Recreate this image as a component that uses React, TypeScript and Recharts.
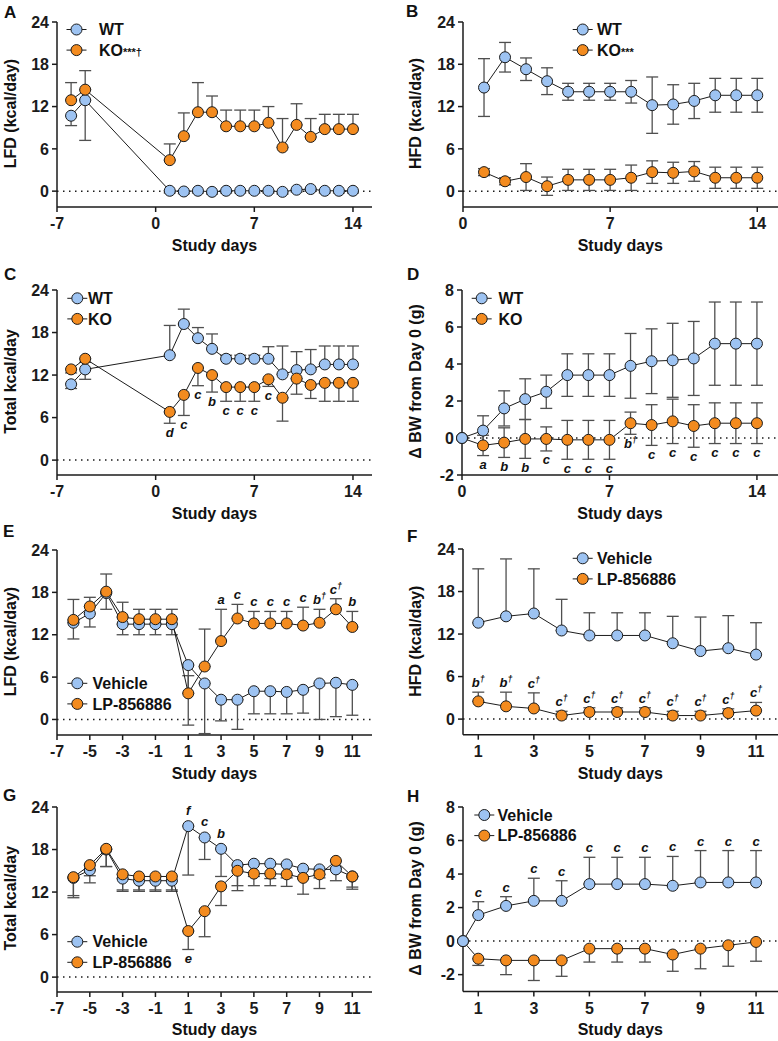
import React from "react";
import { LineChart, Line, XAxis, YAxis, ErrorBar, ReferenceLine, LabelList } from "recharts";

const BLUE = "#9dc3f2";
const ORANGE = "#f38b1f";
const INK = "#1b1b1b";
const ERR = "#4f4f4f";
const FONT = "Arial, 'Liberation Sans', Helvetica, sans-serif";

// ---- A / C: WT vs KO, days -6..14 (no chow days -4..0)
const daysAC = [-6, -5, 1, 2, 3, 4, 5, 6, 7, 8, 9, 10, 11, 12, 13, 14];
const lfdWT = [10.7, 12.9, 0.05, -0.05, 0.05, -0.1, 0.05, 0.05, 0.05, 0.05, -0.1, 0.2, 0.3, 0.05, 0.05, 0.05];
const lfdWTSem = [1.4, 5.7, 0.3, 0.3, 0.3, 0.3, 0.3, 0.3, 0.3, 0.3, 0.3, 0.3, 0.3, 0.3, 0.3, 0.3];
const lfdKO = [12.9, 14.4, 4.4, 7.8, 11.2, 11.2, 9.2, 9.2, 9.2, 9.7, 6.2, 9.4, 7.7, 8.8, 8.8, 8.8];
const lfdKOSem = [2.5, 2.7, 2.3, 3.3, 4.2, 2.3, 2.3, 2.3, 2.3, 2.3, 4.1, 3.0, 2.6, 2.1, 2.1, 2.1];

const totWT = [10.7, 12.8, 14.8, 19.2, 17.2, 15.7, 14.3, 14.3, 14.3, 14.3, 12.1, 12.7, 12.8, 13.5, 13.5, 13.5];
const totWTSem = [0.6, 1.4, 4.2, 2.1, 1.5, 2.1, 0.5, 0.5, 0.5, 1.7, 4.0, 2.6, 2.8, 2.6, 2.6, 2.6];
const totWTDir = ["down", "down", "up", "up", "up", "up", "up", "up", "up", "up", "up", "up", "up", "up", "up", "up"];
const totKO = [12.8, 14.3, 6.8, 9.2, 13.0, 12.0, 10.3, 10.3, 10.3, 11.4, 8.8, 11.5, 10.6, 10.9, 10.9, 10.9];
const totKOSem = [0.5, 0.5, 1.6, 2.9, 2.5, 2.4, 2.0, 2.0, 2.0, 1.0, 3.3, 2.2, 1.9, 2.6, 2.6, 2.6];
const totKOSig = ["", "", "d", "c", "c", "b", "c", "c", "c", "c", "", "", "", "", "", ""];

// ---- B: HFD, days 1..14
const daysB = [1, 2, 3, 4, 5, 6, 7, 8, 9, 10, 11, 12, 13, 14];
const hfdWT = [14.7, 19.0, 17.3, 15.6, 14.1, 14.1, 14.1, 14.1, 12.2, 12.3, 12.8, 13.6, 13.6, 13.6];
const hfdWTSem = [4.1, 2.1, 1.6, 1.9, 1.2, 1.2, 1.2, 1.6, 4.0, 2.8, 2.5, 2.4, 2.4, 2.4];
const hfdKO = [2.7, 1.4, 2.0, 0.7, 1.6, 1.6, 1.6, 1.9, 2.7, 2.6, 2.8, 1.9, 1.9, 1.9];
const hfdKOSem = [0.5, 0.5, 1.9, 1.3, 1.5, 1.5, 1.5, 1.8, 1.6, 1.5, 1.4, 1.5, 1.5, 1.5];

// ---- D: body weight change, days 0..14
const daysD = [0, 1, 2, 3, 4, 5, 6, 7, 8, 9, 10, 11, 12, 13, 14];
const bwWT = [0, 0.4, 1.6, 2.1, 2.5, 3.4, 3.4, 3.4, 3.9, 4.15, 4.2, 4.3, 5.1, 5.1, 5.1];
const bwWTSem = [0, 0.8, 0.95, 1.1, 0.9, 1.15, 1.15, 1.15, 1.75, 1.75, 2.0, 2.0, 2.25, 2.25, 2.25];
const bwKO = [0, -0.4, -0.25, -0.05, -0.05, -0.1, -0.1, -0.1, 0.8, 0.7, 0.9, 0.65, 0.8, 0.8, 0.8];
const bwKOSem = [0, 0.55, 0.8, 1.05, 0.65, 1.05, 1.05, 1.05, 0.6, 1.1, 1.2, 1.15, 1.1, 1.1, 1.1];
const bwKOSig = ["", "a", "b", "b", "c", "c", "c", "c", "b†", "c", "c", "c", "c", "c", "c"];

// ---- E / G: vehicle vs LP-856886, days -6..11
const daysEG = [-6, -5, -4, -3, -2, -1, 0, 1, 2, 3, 4, 5, 6, 7, 8, 9, 10, 11];
const lfdVeh = [13.7, 15.0, 17.9, 13.5, 13.5, 13.5, 13.5, 7.7, 5.1, 2.8, 2.8, 4.0, 4.0, 3.9, 4.2, 5.1, 5.2, 4.9];
const lfdVehSem = [2.3, 1.9, 2.3, 1.5, 1.5, 1.5, 1.5, 8.5, 7.1, 3.0, 4.2, 3.2, 3.2, 3.1, 3.3, 5.1, 4.8, 4.3];
const lfdLP = [14.1, 16.0, 18.1, 14.5, 14.2, 14.2, 14.2, 3.7, 7.5, 11.1, 14.3, 13.6, 13.6, 13.6, 13.3, 13.7, 15.6, 13.1];
const lfdLPSem = [2.9, 1.3, 2.5, 2.1, 1.4, 1.4, 1.4, 2.5, 5.3, 4.5, 2.0, 1.7, 1.7, 1.7, 2.6, 1.9, 1.5, 2.2];
const lfdLPSig = ["", "", "", "", "", "", "", "", "", "a", "c", "c", "c", "c", "c", "b†", "c†", "b"];

const totVeh = [14.0, 15.1, 18.0, 13.9, 13.6, 13.6, 13.6, 21.3, 19.7, 18.1, 15.8, 16.0, 16.0, 15.9, 15.3, 15.2, 15.2, 14.2];
const totVehSem = [2.5, 1.8, 2.4, 1.6, 1.3, 1.3, 1.3, 6.9, 3.1, 3.9, 2.9, 1.8, 2.1, 1.9, 1.4, 1.2, 1.6, 1.5];
const totVehSig = ["", "", "", "", "", "", "", "f", "c", "b", "", "", "", "", "", "", "", ""];
const totLP = [14.1, 15.8, 18.1, 14.5, 14.2, 14.2, 14.2, 6.5, 9.3, 12.8, 15.0, 14.6, 14.6, 14.5, 14.0, 14.5, 16.4, 14.2];
const totLPSem = [2.9, 1.5, 2.5, 2.4, 2.1, 2.1, 2.1, 2.6, 3.6, 2.7, 2.8, 1.7, 1.7, 1.7, 2.3, 2.0, 1.0, 1.8];
const totLPSig = ["", "", "", "", "", "", "", "e", "", "", "", "", "", "", "", "", "", ""];

// ---- F: HFD, days 1..11
const daysF = [1, 2, 3, 4, 5, 6, 7, 8, 9, 10, 11];
const hfdVeh = [13.6, 14.5, 14.9, 12.5, 11.8, 11.8, 11.8, 10.7, 9.6, 10.0, 9.1];
const hfdVehSem = [7.6, 8.1, 6.3, 4.4, 3.2, 3.2, 3.2, 3.8, 4.8, 4.6, 4.5];
const hfdLP = [2.5, 1.8, 1.5, 0.5, 1.0, 1.0, 1.0, 0.5, 0.5, 0.85, 1.2];
const hfdLPSem = [1.3, 2.0, 2.2, 0.6, 0.6, 0.6, 0.6, 0.6, 0.6, 0.6, 1.15];
const hfdLPSig = ["b†", "b†", "c†", "c†", "c†", "c†", "c†", "c†", "c†", "c†", "c†"];

// ---- H: body weight change; baseline point sits on the axis origin
const H_BASELINE = 0.45;
const daysH = [H_BASELINE, 1, 2, 3, 4, 5, 6, 7, 8, 9, 10, 11];
const bwVeh = [0, 1.55, 2.1, 2.4, 2.4, 3.4, 3.4, 3.4, 3.3, 3.5, 3.5, 3.5];
const bwVehSem = [0, 0.8, 0.55, 1.35, 1.2, 1.6, 1.6, 1.6, 1.75, 1.9, 1.9, 1.9];
const bwVehSig = ["", "c", "c", "c", "c", "c", "c", "c", "c", "c", "c", "c"];
const bwLP = [0, -1.05, -1.15, -1.15, -1.15, -0.45, -0.45, -0.45, -0.8, -0.45, -0.25, -0.05];
const bwLPSem = [0, 0.4, 0.85, 1.2, 0.95, 0.8, 0.8, 0.8, 1.0, 1.2, 1.25, 1.15];

const kcalTicks = [0, 6, 12, 18, 24];
const bwTicks = [-2, 0, 2, 4, 6, 8];
const ticks14 = [-7, 0, 7, 14];
const ticks0to14 = [0, 7, 14];
const ticksOdd = [-7, -5, -3, -1, 1, 3, 5, 7, 9, 11];
const ticks1to11 = [1, 3, 5, 7, 9, 11];

type Dir = "up" | "down" | "both";

type Series = {
  key: string;
  name: string;
  sup?: string;
  color: string;
  values: number[];
  sem: number[];
  dir: Dir | string[];
  sig?: string[];
  sigSide?: "above" | "below";
  sigGap?: number;
  z: number;
};

type PanelDef = {
  letter: string;
  letterPos: [number, number];
  plot: { x: number; y: number; w: number; h: number };
  xDomain: [number, number];
  xTicks: number[];
  yDomain: [number, number];
  yTicks: number[];
  yLabel: string;
  yLabelX: number;
  days: number[];
  series: Series[];
  legend: { mx: number; y: number; tx: number };
};

const wt = "WT";
const ko = "KO";
const veh = "Vehicle";
const lp = "LP-856886";

const PANELS: PanelDef[] = [
  {
    letter: "A", letterPos: [4, 6],
    plot: { x: 57, y: 22, w: 315, h: 185 },
    xDomain: [-7, 15.35], xTicks: ticks14, yDomain: [-2.25, 24], yTicks: kcalTicks,
    yLabel: "LFD (kcal/day)", yLabelX: 10, days: daysAC,
    series: [
      { key: "wt", name: wt, color: BLUE, values: lfdWT, sem: lfdWTSem, dir: "down", z: 0 },
      { key: "ko", name: ko, sup: "***†", color: ORANGE, values: lfdKO, sem: lfdKOSem, dir: "up", z: 1 },
    ],
    legend: { mx: 76.5, y: 29.5, tx: 99 },
  },
  {
    letter: "B", letterPos: [406, 5],
    plot: { x: 462.7, y: 22, w: 315.3, h: 185 },
    xDomain: [0, 15], xTicks: ticks0to14, yDomain: [-2.25, 24], yTicks: kcalTicks,
    yLabel: "HFD (kcal/day)", yLabelX: 415, days: daysB,
    series: [
      { key: "wt", name: wt, color: BLUE, values: hfdWT, sem: hfdWTSem, dir: "both", z: 0 },
      { key: "ko", name: ko, sup: "***", color: ORANGE, values: hfdKO, sem: hfdKOSem, dir: "both", z: 1 },
    ],
    legend: { mx: 582.7, y: 29.5, tx: 597 },
  },
  {
    letter: "C", letterPos: [4, 268],
    plot: { x: 57, y: 290, w: 315, h: 185 },
    xDomain: [-7, 15.35], xTicks: ticks14, yDomain: [-2.1, 24], yTicks: kcalTicks,
    yLabel: "Total kcal/day", yLabelX: 10, days: daysAC,
    series: [
      { key: "wt", name: wt, color: BLUE, values: totWT, sem: totWTSem, dir: totWTDir, z: 0 },
      { key: "ko", name: ko, color: ORANGE, values: totKO, sem: totKOSem, dir: "down", sig: totKOSig, sigSide: "below", z: 1 },
    ],
    legend: { mx: 77.3, y: 298.3, tx: 88 },
  },
  {
    letter: "D", letterPos: [407, 268],
    plot: { x: 462, y: 290, w: 316, h: 185 },
    xDomain: [0, 15], xTicks: ticks0to14, yDomain: [-2, 8], yTicks: bwTicks,
    yLabel: "Δ BW from Day 0 (g)", yLabelX: 415, days: daysD,
    series: [
      { key: "wt", name: wt, color: BLUE, values: bwWT, sem: bwWTSem, dir: "both", z: 1 },
      { key: "ko", name: ko, color: ORANGE, values: bwKO, sem: bwKOSem, dir: "both", sig: bwKOSig, sigSide: "below", z: 0 },
    ],
    legend: { mx: 481.7, y: 298.3, tx: 498.5 },
  },
  {
    letter: "E", letterPos: [3, 525],
    plot: { x: 57, y: 550, w: 315, h: 185 },
    xDomain: [-7, 12.2], xTicks: ticksOdd, yDomain: [-2.2, 24], yTicks: kcalTicks,
    yLabel: "LFD (kcal/day)", yLabelX: 10, days: daysEG,
    series: [
      { key: "veh", name: veh, color: BLUE, values: lfdVeh, sem: lfdVehSem, dir: "down", z: 0 },
      { key: "lp", name: lp, color: ORANGE, values: lfdLP, sem: lfdLPSem, dir: "up", sig: lfdLPSig, sigSide: "above", z: 1 },
    ],
    legend: { mx: 77.3, y: 683.3, tx: 92.5 },
  },
  {
    letter: "F", letterPos: [407, 530],
    plot: { x: 462.7, y: 549.3, w: 315.3, h: 185.7 },
    xDomain: [0.45, 11.8], xTicks: ticks1to11, yDomain: [-2.2, 24], yTicks: kcalTicks,
    yLabel: "HFD (kcal/day)", yLabelX: 415, days: daysF,
    series: [
      { key: "veh", name: veh, color: BLUE, values: hfdVeh, sem: hfdVehSem, dir: "up", z: 0 },
      { key: "lp", name: lp, color: ORANGE, values: hfdLP, sem: hfdLPSem, dir: "up", sig: hfdLPSig, sigSide: "above", z: 1 },
    ],
    legend: { mx: 582.7, y: 558.3, tx: 597 },
  },
  {
    letter: "G", letterPos: [3, 789],
    plot: { x: 57, y: 806.7, w: 315, h: 185 },
    xDomain: [-7, 12.2], xTicks: ticksOdd, yDomain: [-2.1, 24], yTicks: kcalTicks,
    yLabel: "Total kcal/day", yLabelX: 10, days: daysEG,
    series: [
      { key: "veh", name: veh, color: BLUE, values: totVeh, sem: totVehSem, dir: "down", sig: totVehSig, sigSide: "above", sigGap: 11, z: 0 },
      { key: "lp", name: lp, color: ORANGE, values: totLP, sem: totLPSem, dir: "down", sig: totLPSig, sigSide: "below", z: 1 },
    ],
    legend: { mx: 77.3, y: 941.7, tx: 92.5 },
  },
  {
    letter: "H", letterPos: [407, 790],
    plot: { x: 462.7, y: 807.3, w: 315.3, h: 184.4 },
    xDomain: [0.45, 11.8], xTicks: ticks1to11, yDomain: [-3, 8], yTicks: bwTicks,
    yLabel: "Δ BW from Day 0 (g)", yLabelX: 415, days: daysH,
    series: [
      { key: "veh", name: veh, color: BLUE, values: bwVeh, sem: bwVehSem, dir: "up", sig: bwVehSig, sigSide: "above", z: 1 },
      { key: "lp", name: lp, color: ORANGE, values: bwLP, sem: bwLPSem, dir: "down", z: 0 },
    ],
    legend: { mx: 484.3, y: 815, tx: 497.5 },
  },
];

// one row per day: value, [low, high] error and the y where a significance letter hangs
function buildRows(days: number[], series: Series[]) {
  return days.map((day, i) => {
    const row: Record<string, any> = { day };
    series.forEach((s) => {
      const v = s.values[i];
      const e = s.sem[i];
      const dir = Array.isArray(s.dir) ? s.dir[i] : s.dir;
      const lo = dir === "up" ? 0 : e;
      const hi = dir === "down" ? 0 : e;
      row[s.key] = v;
      row[s.key + "Err"] = [lo, hi];
      const sig = s.sig ? s.sig[i] : "";
      row[s.key + "Sig"] = sig || null;
      row[s.key + "SigY"] = sig ? (s.sigSide === "above" ? v + hi : v - lo) : null;
    });
    return row;
  });
}

const sigLabel = (dy: number) => (props: any) => {
  const { value } = props;
  if (!value) return null;
  const vb = props.viewBox || {};
  const x = props.x ?? vb.x;
  const y = props.y ?? vb.y;
  if (x == null || y == null) return null;
  const text = String(value);
  const dagger = text.includes("†");
  return (
    <text x={x} y={y + dy} textAnchor="middle" fontFamily={FONT} fontSize={13} fontWeight="bold" fontStyle="italic" fill="#111">
      {text.replace("†", "")}
      {dagger && (
        <tspan fontSize={9} dy={-5}>
          †
        </tspan>
      )}
    </text>
  );
};

const Y_W = 50;
const TOP = 14;
const X_H = 40;

const axisProps = {
  stroke: INK,
  axisLine: { stroke: INK, strokeWidth: 1.5 },
  tickLine: { stroke: INK, strokeWidth: 1.5 },
  tick: { fill: INK, fontSize: 16, fontWeight: 700, fontFamily: FONT },
};

function Panel({ p }: { p: PanelDef }) {
  const rows = buildRows(p.days, p.series);
  const padR = p.plot.x + p.plot.w >= 777 ? 0 : 6;
  const width = p.plot.w + Y_W + padR;
  const height = p.plot.h + TOP + X_H;
  const ordered = [...p.series].sort((a, b) => a.z - b.z);
  return (
    <div style={{ position: "absolute", left: p.plot.x - Y_W, top: p.plot.y - TOP }}>
      <LineChart width={width} height={height} data={rows} margin={{ top: TOP, right: padR, bottom: 0, left: 0 }}>
        <XAxis
          type="number"
          dataKey="day"
          domain={p.xDomain}
          ticks={p.xTicks}
          interval={0}
          height={X_H}
          tickSize={5}
          tickMargin={6}
          {...axisProps}
        />
        <YAxis
          type="number"
          domain={p.yDomain}
          ticks={p.yTicks}
          interval={0}
          allowDataOverflow
          width={Y_W}
          tickSize={5}
          tickMargin={3}
          {...axisProps}
        />
        <ReferenceLine y={0} stroke={INK} strokeWidth={1.5} strokeDasharray="1.5 4.5" />
        {/* error bars first so every marker sits above them */}
        {ordered.map((s) => (
          <Line
            key={s.key + "-err"}
            dataKey={s.key}
            stroke="none"
            dot={false}
            activeDot={false}
            legendType="none"
            isAnimationActive={false}
          >
            <ErrorBar dataKey={s.key + "Err"} width={6} stroke={ERR} strokeWidth={1.3} direction="y" />
          </Line>
        ))}
        {ordered.map((s) => (
          <Line
            key={s.key}
            dataKey={s.key}
            name={s.name}
            stroke={INK}
            strokeWidth={1}
            dot={{ r: 5.5, fill: s.color, stroke: INK, strokeWidth: 1 }}
            activeDot={false}
            isAnimationActive={false}
          />
        ))}
        {ordered
          .filter((s) => s.sig)
          .map((s) => (
            <Line
              key={s.key + "-sig"}
              dataKey={s.key + "SigY"}
              stroke="none"
              dot={false}
              activeDot={false}
              legendType="none"
              isAnimationActive={false}
            >
              <LabelList
                dataKey={s.key + "Sig"}
                content={sigLabel(s.sigSide === "above" ? -(s.sigGap ?? 5) : s.sigGap ?? 13.5)}
              />
            </Line>
          ))}
      </LineChart>
    </div>
  );
}

function Titles() {
  return (
    <svg width={778} height={1041} style={{ position: "absolute", left: 0, top: 0, pointerEvents: "none" }}>
      {PANELS.map((p) => {
        const cx = p.plot.x + p.plot.w / 2;
        const axisY = p.plot.y + p.plot.h;
        const cy = p.plot.y + p.plot.h / 2 - 1;
        return (
          <g key={p.letter} fontFamily={FONT} fontWeight="bold" fill="#111">
            <text x={p.letterPos[0]} y={p.letterPos[1] + 12.2} fontSize={17}>
              {p.letter}
            </text>
            <text x={cx} y={axisY + 43.7} fontSize={16} textAnchor="middle">
              Study days
            </text>
            <text transform={`translate(${p.yLabelX},${cy}) rotate(-90)`} fontSize={16} textAnchor="middle" dy="0.35em">
              {p.yLabel}
            </text>
            {p.series.map((s, i) => {
              const y = p.legend.y + i * 20.6;
              return (
                <g key={s.key}>
                  <line x1={p.legend.mx - 10} x2={p.legend.mx + 10} y1={y} y2={y} stroke={INK} strokeWidth={1} />
                  <circle cx={p.legend.mx} cy={y} r={5.5} fill={s.color} stroke={INK} strokeWidth={1} />
                  <text x={p.legend.tx} y={y + 5.7} fontSize={16}>
                    {s.name}
                    {s.sup && <tspan fontSize={11}>{s.sup}</tspan>}
                  </text>
                </g>
              );
            })}
          </g>
        );
      })}
    </svg>
  );
}

export default function App() {
  return (
    <div
      style={{
        position: "absolute",
        left: 0,
        top: 0,
        width: 778,
        height: 1041,
        overflow: "hidden",
        background: "#fff",
        fontFamily: FONT,
      }}
    >
      {PANELS.map((p) => (
        <Panel key={p.letter} p={p} />
      ))}
      <Titles />
    </div>
  );
}
